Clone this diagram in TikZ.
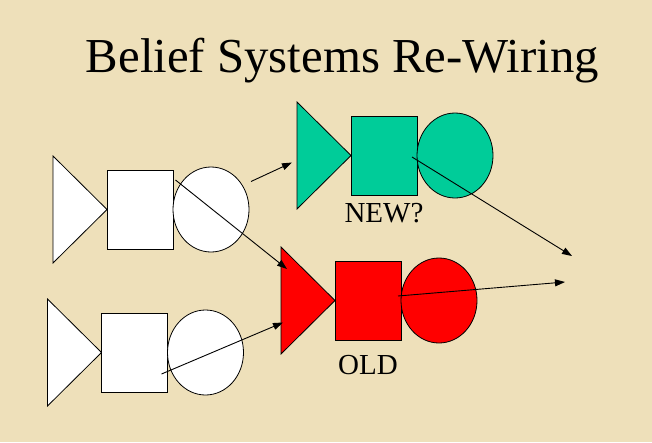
\documentclass[tikz,border=0pt]{standalone}
\usepackage{fontspec}
\setmainfont{Liberation Serif}
\usetikzlibrary{shapes.geometric, arrows.meta, positioning}
\definecolor{parchment}{RGB}{238,224,186}
\definecolor{newgreen}{RGB}{0,204,153}
\definecolor{oldred}{RGB}{255,0,0}
\tikzset{
tri/.style={
       isosceles triangle,
       isosceles triangle stretches,
       shape border rotate=0,
       minimum width=107pt,
       minimum height=54pt,
       inner sep=0pt, outer sep=0pt,
       draw=black, line width=0.8pt,
       },
sq/.style={
       rectangle,
       minimum width=66pt,
       minimum height=79pt,
       inner sep=0pt, outer sep=0pt,
       draw=black, line width=0.8pt,
       },
blob/.style={
       ellipse,
       minimum width=76pt,
       minimum height=85pt,
       inner sep=0pt, outer sep=0pt,
       draw=black, line width=0.8pt,
       },
lbl/.style={
       font=\fontsize{29}{34}\selectfont,
       inner sep=0pt,
       },
link/.style={
       -{Triangle[length=10pt,width=7pt]},
       line width=0.9pt,
       }
}
\begin{document}
\begin{tikzpicture}[x=1pt, y=-1pt]
      \fill[parchment] (0,0) rectangle (652,442);
      \useasboundingbox (0,0) rectangle (652,442);

      \node[font=\fontsize{48.8}{58}\selectfont, anchor=base, inner sep=0pt] (title) at (342.5,72) {Belief Systems Re-Wiring};

      % Draw the four triangle/square/circle groups
      \foreach \g/\x/\y/\c in {
          A/53/209.5/white,
          B/297/155.5/newgreen,
          C/281/300.5/oldred,
          D/47.5/352.5/white%
      } {
          \node [tri, fill=\c, anchor=lower side] (t\g) at (\x,\y) {};
          \node [sq, fill=\c, right=0pt of t\g.apex] (sq\g) {};
          \node [blob, fill=\c, right=0pt of sq\g] (c\g) {};
      }

      \node [lbl, below=8pt of sqB] (newlbl) {NEW?};
      \node [lbl, below=15pt of sqC] (oldlbl) {OLD};

      \coordinate (endB) at (572,256);
      \coordinate (endC) at (565,282);

      % Draw arrows
      \draw[link] ([shift={(2pt,28pt)}]cA.east) -- ([shift={(-5pt,-7pt)}]tB.lower side);
      \draw[link] ([shift={(2.5pt,-10pt)}]sqA.north east) -- ([shift={(6pt,-22pt)}]tC.left corner);
      \draw[link] ([shift={(-5pt,-1.5pt)}]sqB.east) -- (endB);
      \draw[link] ([shift={(-3pt,4.5pt)}]sqC.east) -- (endC);
      \draw[link] ([shift={(-6pt,18pt)}]sqD.south east) -- ([shift={(2pt,-22pt)}]tC.lower side);
\end{tikzpicture}
\end{document}
